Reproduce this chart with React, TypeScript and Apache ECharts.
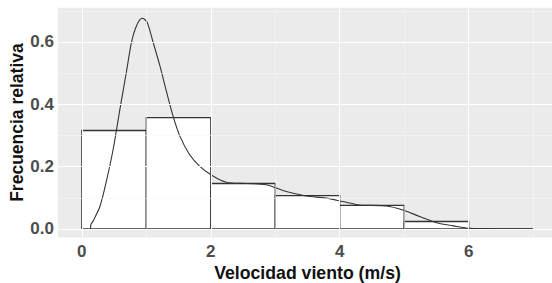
import React, { useEffect, useRef } from "react";
import * as echarts from "echarts";

// Histogram bins (m/s) and relative frequency
const binStart = [0, 1, 2, 3, 4, 5, 6];
const binEnd = [1, 2, 3, 4, 5, 6, 7];
const relFreq = [0.316, 0.357, 0.146, 0.107, 0.076, 0.024, 0.0];

// Density curve
const densityX = [0.135, 0.14, 0.175, 0.28, 0.38, 0.485, 0.59, 0.69, 0.77, 0.85, 0.935, 1.01, 1.105, 1.21, 1.31, 1.415, 1.52, 1.67, 1.83, 2.04, 2.24, 2.55, 2.86, 3.17, 3.48, 3.79, 4.05, 4.31, 4.72, 4.98, 5.24, 5.5, 5.76, 6.02, 6.5, 7.0];
const densityY = [0.0, 0.014, 0.026, 0.072, 0.153, 0.255, 0.384, 0.502, 0.599, 0.653, 0.676, 0.664, 0.599, 0.524, 0.443, 0.362, 0.298, 0.239, 0.201, 0.169, 0.15, 0.146, 0.142, 0.12, 0.106, 0.099, 0.088, 0.077, 0.074, 0.061, 0.04, 0.02, 0.01, 0.002, 0.0005, 0.0];

// Ticks and grid lines
const xTicks = [0, 2, 4, 6];
const xMinor = [1, 3, 5, 7];
const yTicks = [0, 0.2, 0.4, 0.6];
const yMinor = [0.1, 0.3, 0.5, 0.7];

const FONT = "'Liberation Sans', Arial, sans-serif";

export default function App() {
  const ref = useRef<HTMLDivElement>(null);
  useEffect(() => {
    if (!ref.current) return;
    const chart = echarts.init(ref.current, null, { renderer: "svg" });
    const major = { color: "#ffffff", width: 1.1, type: "solid" };
    const minor = { color: "#f7f7f7", width: 0.6, type: "solid" };
    const gridData: any[] = [
      ...xMinor.map((v) => ({ xAxis: v, lineStyle: minor })),
      ...yMinor.map((v) => ({ yAxis: v, lineStyle: minor })),
      ...xTicks.map((v) => ({ xAxis: v, lineStyle: major })),
      ...yTicks.map((v) => ({ yAxis: v, lineStyle: major })),
    ];
    const bars = binStart.map((s, i) => [s, binEnd[i], relFreq[i]]);
    chart.setOption({
      animation: false,
      grid: {
        left: 58,
        top: 7.7,
        width: 499,
        height: 229.7,
        show: true,
        backgroundColor: "#ebebeb",
        borderWidth: 0,
        containLabel: false,
        outerBoundsMode: "none",
      },
      xAxis: {
        type: "value",
        min: -0.37,
        max: 7.37,
        name: "Velocidad viento (m/s)",
        nameLocation: "middle",
        nameGap: 27,
        nameMoveOverlap: false,
        nameTextStyle: { fontFamily: FONT, fontWeight: "bold", fontSize: 17.7, color: "#111" },
        axisLine: { show: false },
        splitLine: { show: false },
        axisTick: { show: true, length: 3, lineStyle: { color: "#333" }, customValues: xTicks },
        axisLabel: {
          customValues: xTicks,
          margin: 6,
          fontFamily: FONT,
          fontWeight: "bold",
          fontSize: 17,
          color: "#4d4d4d",
          formatter: (v: number) => String(v),
        },
      },
      yAxis: {
        type: "value",
        min: -0.027,
        max: 0.71,
        name: "Frecuencia relativa",
        nameLocation: "middle",
        nameGap: 32,
        nameMoveOverlap: false,
        nameRotate: 90,
        nameTextStyle: { fontFamily: FONT, fontWeight: "bold", fontSize: 17.5, color: "#111" },
        axisLine: { show: false },
        splitLine: { show: false },
        axisTick: { show: true, length: 3, lineStyle: { color: "#333" }, customValues: yTicks },
        axisLabel: {
          customValues: yTicks,
          margin: 4,
          fontFamily: FONT,
          fontWeight: "bold",
          fontSize: 17,
          color: "#4d4d4d",
          formatter: (v: number) => v.toFixed(1),
        },
      },
      series: [
        {
          type: "line",
          data: [],
          z: 1,
          silent: true,
          markLine: {
            silent: true,
            symbol: "none",
            label: { show: false },
            data: gridData,
            animation: false,
          },
        },
        {
          type: "custom",
          z: 2,
          data: bars,
          renderItem: (params: any, api: any) => {
            const p0 = api.coord([api.value(0), api.value(2)]);
            const p1 = api.coord([api.value(1), 0]);
            return {
              type: "rect",
              shape: { x: p0[0], y: p0[1], width: p1[0] - p0[0], height: p1[1] - p0[1] },
              style: { fill: "#ffffff", stroke: "#333333", lineWidth: 1.3 },
            };
          },
        },
        {
          type: "line",
          z: 3,
          data: densityX.map((x, i) => [x, densityY[i]]),
          showSymbol: false,
          smooth: 0.3,
          lineStyle: { color: "#333333", width: 1.1 },
        },
      ],
    });
    return () => chart.dispose();
  }, []);
  return <div ref={ref} style={{ position: "absolute", left: 0, top: 0, width: 552, height: 283 }} />;
}
